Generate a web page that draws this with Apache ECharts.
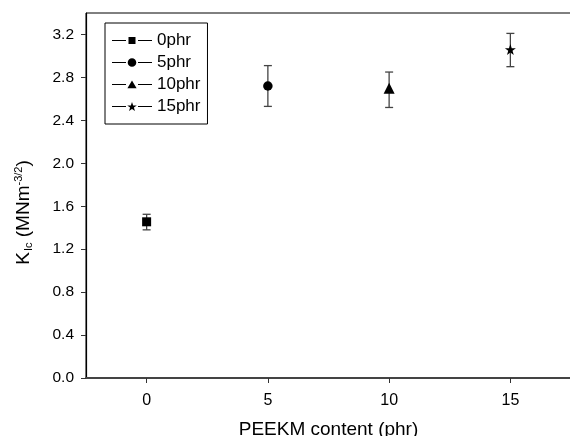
<!DOCTYPE html>
<html><head><meta charset="utf-8">
<script src="https://cdn.jsdelivr.net/npm/echarts@6/dist/echarts.min.js"></script>
<style>html,body{margin:0;padding:0;background:#fff}#c{width:570px;height:436px}</style>
</head><body><div id="c"></div>
<script>
const seriesNames = ['0phr','5phr','10phr','15phr'];
const xValues = [0, 5, 10, 15];
const yValues = [1.455, 2.72, 2.70, 3.06];
const errLow = [1.38, 2.53, 2.52, 2.90];
const errHigh = [1.525, 2.91, 2.85, 3.21];
const yTicks = [0.0,0.4,0.8,1.2,1.6,2.0,2.4,2.8,3.2];
const xTicks = [0,5,10,15];

const star = 'path://M50,0 L61.8,35.3 L97.6,35.3 L68.6,57.1 L79.4,92.7 L50,70.9 L20.6,92.7 L31.4,57.1 L2.4,35.3 L38.2,35.3 Z';
const symbols = ['rect','circle','triangle',star];
const sizes = [9,9.5,11,11];
const font = 'Liberation Sans, Arial, sans-serif';

// legend icons: line – symbol – line, drawn in a 40x10 box
const anchor = 'M0,0 L0.01,0 L0,0.01 Z M40,10 L39.99,10 L40,9.99 Z ';
const lines = 'M0,4.5 L14,4.5 L14,5.5 L0,5.5 Z M26,4.5 L40,4.5 L40,5.5 L26,5.5 Z ';
const legendMarks = [
  'M16.5,1.5 L23.5,1.5 L23.5,8.5 L16.5,8.5 Z',
  'M24.3,5 A4.3,4.3 0 1,1 15.7,5 A4.3,4.3 0 1,1 24.3,5 Z',
  'M20,1 L24.6,8.8 L15.4,8.8 Z',
  'M20,0.5 L21.18,3.88 L24.76,3.96 L21.9,6.12 L22.94,9.55 L20,7.5 L17.06,9.55 L18.1,6.12 L15.24,3.96 L18.82,3.88 Z'
];

const series = seriesNames.map((n,i)=>({
  name:n, type:'line', data:[[xValues[i], yValues[i]]],
  symbol:symbols[i], symbolSize:sizes[i], showSymbol:true,
  itemStyle:{color:'#000'}, lineStyle:{color:'#000', width:1},
  z:5
}));
series.push({
  type:'custom', name:'err',
  data: xValues.map((x,i)=>[x, errLow[i], errHigh[i]]),
  renderItem:(params, api)=>{
    const lo = api.coord([api.value(0), api.value(1)]);
    const hi = api.coord([api.value(0), api.value(2)]);
    const w = 4;
    const st = {stroke:'#444', lineWidth:1.3};
    return {type:'group', children:[
      {type:'line', shape:{x1:lo[0],y1:lo[1],x2:hi[0],y2:hi[1]}, style:st},
      {type:'line', shape:{x1:lo[0]-w,y1:lo[1],x2:lo[0]+w,y2:lo[1]}, style:st},
      {type:'line', shape:{x1:hi[0]-w,y1:hi[1],x2:hi[0]+w,y2:hi[1]}, style:st}
    ]};
  },
  z:2
});

const chart = echarts.init(document.getElementById('c'));
chart.setOption({
  animation:false,
  backgroundColor:'#fff',
  grid:{left:86, right:-1, top:13, bottom:58, show:true, borderColor:'#000', borderWidth:1,
        containLabel:false, outerBoundsMode:'none'},
  legend:{
    data:seriesNames.map((n,i)=>({name:n, icon:'path://' + anchor + lines + legendMarks[i]})),
    orient:'vertical', left:105, top:23,
    padding:[9,7,9,7], itemGap:5, itemWidth:40, itemHeight:10,
    borderColor:'#000', borderWidth:1, backgroundColor:'#fff',
    itemStyle:{color:'#000', borderWidth:0},
    textStyle:{fontFamily:font, fontSize:17, color:'#000'}
  },
  xAxis:{
    type:'value', min:-2.5, max:17.5, interval:2.5,
    name:'PEEKM content (phr)', nameLocation:'middle', nameGap:42,
    nameTextStyle:{fontFamily:font, fontSize:19, color:'#000'},
    axisLine:{show:true, onZero:false, lineStyle:{color:'#444', width:2}},
    axisTick:{show:true, length:5, lineStyle:{color:'#333'},
      customValues: xTicks},
    axisLabel:{fontFamily:font, fontSize:16, color:'#000', margin:15,
      customValues: xTicks},
    splitLine:{show:false}
  },
  yAxis:{
    type:'value', min:0, max:3.4, interval:0.4,
    name:'{n|K}{s|Ic}{n| (MNm}{p|-3/2}{n|)}', nameLocation:'middle', nameGap:52, nameRotate:90,
    nameTextStyle:{padding:[0,34,0,0], rich:{
      n:{fontFamily:font, fontSize:19, color:'#000'},
      s:{fontFamily:font, fontSize:11, color:'#000', verticalAlign:'bottom', padding:[8,0,0,1]},
      p:{fontFamily:font, fontSize:11, color:'#000', verticalAlign:'top', padding:[0,0,10,0]}
    }},
    axisLine:{show:true, onZero:false, lineStyle:{color:'#000', width:1.2}},
    axisTick:{show:true, length:5, lineStyle:{color:'#333'}, customValues:yTicks},
    axisLabel:{fontFamily:font, fontSize:15.5, color:'#000', margin:12,
      customValues:yTicks, formatter:v=>v.toFixed(1)},
    splitLine:{show:false}
  },
  series:series
});
</script></body></html>
